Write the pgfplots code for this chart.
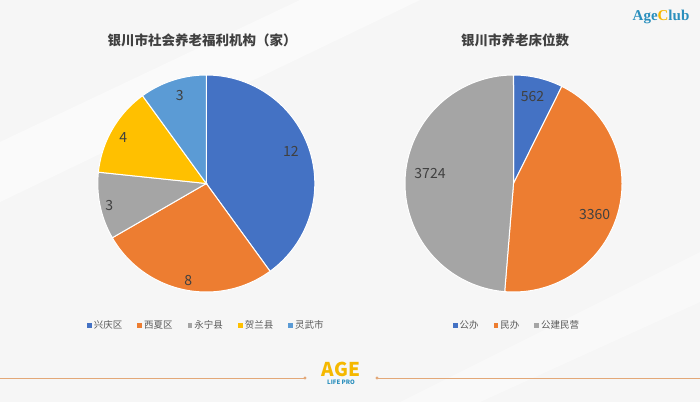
\documentclass[border=0pt]{standalone}
\usepackage{fontspec}
\setmainfont{Noto Sans CJK SC}
\newfontfamily\serifbold{Liberation Serif}
\usepackage{pgfplots}
\pgfplotsset{compat=1.18}
\usepackage{pgfplotstable}
\usepgfplotslibrary{polar}
\definecolor{cblue}{HTML}{4472C4}
\definecolor{corange}{HTML}{ED7D31}
\definecolor{cgray}{HTML}{A5A5A5}
\definecolor{cyellow}{HTML}{FFC000}
\definecolor{clblue}{HTML}{5B9BD5}
\definecolor{ctext}{HTML}{404040}
\definecolor{clegend}{HTML}{595959}
\definecolor{bg}{HTML}{F6F6F6}
\definecolor{logoblue}{HTML}{2A8FBD}
\definecolor{logoyellow}{HTML}{F5B800}
\definecolor{lineorange}{HTML}{E3A878}

\pgfplotstableread{
value
12
8
3
4
3
}\leftdata
\pgfplotstableread{
value
562
3360
3724
}\rightdata

\newcommand\getv[3]{\pgfplotstablegetelem{#1}{value}\of#2\edef#3{\pgfplotsretval}}

\begin{document}
\begin{tikzpicture}[x=1pt,y=1pt]
\useasboundingbox (0,0) rectangle (700,402);
\fill[bg] (0,0) rectangle (700,402);
\fill[white,opacity=0.5] (0,260) -- (300,402) -- (420,402) -- (0,200) -- cycle;
\fill[white,opacity=0.4] (400,0) -- (700,150) -- (700,100) -- (480,0) -- cycle;

% left data
\getv{0}{\leftdata}{\lvA}\getv{1}{\leftdata}{\lvB}\getv{2}{\leftdata}{\lvC}\getv{3}{\leftdata}{\lvD}\getv{4}{\leftdata}{\lvE}
\pgfmathsetmacro\lT{\lvA+\lvB+\lvC+\lvD+\lvE}
\pgfmathsetmacro\laA{90}
\pgfmathsetmacro\laB{\laA-360*(\lvA/\lT)}
\pgfmathsetmacro\laC{\laB-360*(\lvB/\lT)}
\pgfmathsetmacro\laD{\laC-360*(\lvC/\lT)}
\pgfmathsetmacro\laE{\laD-360*(\lvD/\lT)}
\pgfmathsetmacro\laF{\laE-360*(\lvE/\lT)}
% right data
\getv{0}{\rightdata}{\rvA}\getv{1}{\rightdata}{\rvB}\getv{2}{\rightdata}{\rvC}
\pgfmathsetmacro\rT{\rvA+\rvB+\rvC}
\pgfmathsetmacro\raA{90}
\pgfmathsetmacro\raB{\raA-360*(\rvA/\rT)}
\pgfmathsetmacro\raC{\raB-360*(\rvB/\rT)}
\pgfmathsetmacro\raD{\raC-360*(\rvC/\rT)}

\pgfplotsset{
  pie/.style={
    scale only axis, width=217pt, height=217pt,
    ymin=0, ymax=1, hide axis, clip=false,
    anchor=origin,
    legend columns=-1,
    legend style={draw=none, fill=none, anchor=center,
      font=\fontsize{9.5}{11}\selectfont, text=clegend,
      /tikz/every even column/.append style={column sep=13pt}},
    legend image code/.code={\fill[##1,draw=none] (0pt,-2.4pt) rectangle (4.8pt,2.4pt);},
  },
  wedge/.style={draw=white, line width=1pt, samples=120},
}

\begin{polaraxis}[pie, at={(206.3pt,218.5pt)},
  legend style={at={(0.5,-0.155)}}]
\addplot[wedge, fill=cblue, domain=\laB:\laA] {1} -- (axis cs:0,0) -- cycle;
\addlegendentry{兴庆区}
\addplot[wedge, fill=corange, domain=\laC:\laB] {1} -- (axis cs:0,0) -- cycle;
\addlegendentry{西夏区}
\addplot[wedge, fill=cgray, domain=\laD:\laC] {1} -- (axis cs:0,0) -- cycle;
\addlegendentry{永宁县}
\addplot[wedge, fill=cyellow, domain=\laE:\laD] {1} -- (axis cs:0,0) -- cycle;
\addlegendentry{贺兰县}
\addplot[wedge, fill=clblue, domain=\laF:\laE] {1} -- (axis cs:0,0) -- cycle;
\addlegendentry{灵武市}
\begin{scope}[every node/.style={text=ctext, font=\fontsize{14}{16}\selectfont}]
\node at (axis cs:21,0.834) {12};
\node at (axis cs:-100.6,0.905) {8};
\node at (axis cs:193,0.918) {3};
\node at (axis cs:151,0.875) {4};
\node at (axis cs:106.8,0.843) {3};
\end{scope}
\end{polaraxis}

\begin{polaraxis}[pie, at={(513.5pt,218.5pt)},
  legend style={at={(0.516,-0.155)}}]
\addplot[wedge, fill=cblue, domain=\raB:\raA] {1} -- (axis cs:0,0) -- cycle;
\addlegendentry{公办}
\addplot[wedge, fill=corange, domain=\raC:\raB] {1} -- (axis cs:0,0) -- cycle;
\addlegendentry{民办}
\addplot[wedge, fill=cgray, domain=\raD:\raC] {1} -- (axis cs:0,0) -- cycle;
\addlegendentry{公建民营}
\begin{scope}[every node/.style={text=ctext, font=\fontsize{14}{16}\selectfont}]
\node at (axis cs:77.7,0.825) {562};
\node at (axis cs:-20.9,0.80) {3360};
\node at (axis cs:173.2,0.775) {3724};
\end{scope}
\end{polaraxis}

% titles
\node[text=ctext, font=\fontsize{13.5}{16}\selectfont\bfseries] at (202,362) {银川市社会养老福利机构（家）};
\node[text=ctext, font=\fontsize{13.5}{16}\selectfont\bfseries] at (515,362) {银川市养老床位数};

% AgeClub logo
\node[font=\serifbold\fontsize{15}{17}\selectfont\bfseries, inner sep=0pt] at (661,385)
  {\textcolor{logoblue}{Age}\textcolor{logoyellow}{C}\textcolor{logoblue}{lub}};

% bottom decoration
\draw[lineorange, line width=1pt] (0,24) -- (305,24);
\draw[lineorange, line width=1pt] (377,24) -- (700,24);
\fill[lineorange] (305,24) circle (1.6);
\fill[lineorange] (377,24) circle (1.6);
\node[font=\fontsize{19}{20}\selectfont\bfseries, text=logoyellow, inner sep=0pt] at (341,33) {AGE};
\node[font=\fontsize{6}{7}\selectfont\bfseries, text=logoblue, inner sep=0pt] at (341,20) {LIFE PRO};
\end{tikzpicture}
\end{document}
